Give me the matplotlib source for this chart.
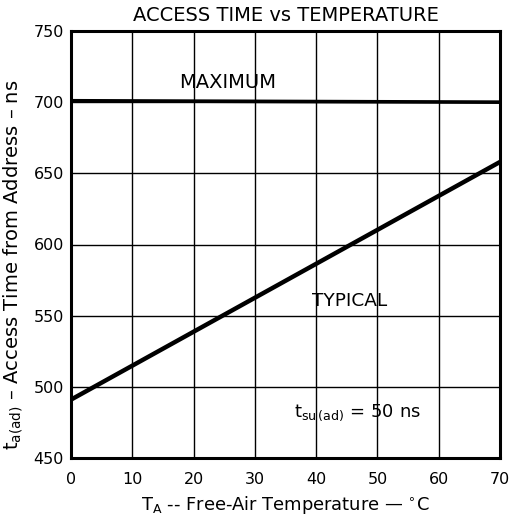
import matplotlib
matplotlib.use("Agg")
import matplotlib.pyplot as plt

plt.rcParams['font.family'] = ['DejaVu Sans']
plt.rcParams['mathtext.fontset'] = 'dejavusans'

temperature = [0, 70]
maximum_ns = [701, 700]
typical_ns = [491, 658]
x_ticks = [0, 10, 20, 30, 40, 50, 60, 70]
y_ticks = [450, 500, 550, 600, 650, 700, 750]

fig = plt.figure(figsize=(5.09, 5.20), dpi=100)
ax = fig.add_axes([71/509, 1 - 458/520, 429/509, 427/520])

ax.set_xlim(0, 70)
ax.set_ylim(450, 750)
ax.set_xticks(x_ticks)
ax.set_yticks(y_ticks)
ax.grid(True, color='black', linewidth=1.0)
ax.tick_params(length=0, labelsize=11.5)
ax.tick_params(axis='y', pad=5)
ax.tick_params(axis='x', pad=10)
for s in ax.spines.values():
    s.set_linewidth(2.2)

ax.plot(temperature, maximum_ns, color='black', linewidth=2.6, solid_capstyle='butt')
ax.plot(temperature, typical_ns, color='black', linewidth=3.2, solid_capstyle='butt')

ax.text(25.6, 714, 'MAXIMUM', ha='center', va='center', fontsize=14)
ax.text(45.5, 560, 'TYPICAL', ha='center', va='center', fontsize=13.3)
ax.text(46.8, 482, r'$\mathregular{t_{su\,(ad)}}$ = 50 ns', ha='center', va='center', fontsize=13)

ax.set_title('ACCESS TIME vs TEMPERATURE', fontsize=14, pad=7)
ax.set_xlabel(r'$\mathregular{T_A}$ -- Free-Air Temperature — $\mathregular{^{\circ}}$C', fontsize=12.9, labelpad=5)
ax.set_ylabel(r'$\mathregular{t_{a(ad)}}$ – Access Time from Address – ns', fontsize=14)
ax.yaxis.set_label_coords(-0.108, 0.452)

fig.savefig('out.png', dpi=100)
